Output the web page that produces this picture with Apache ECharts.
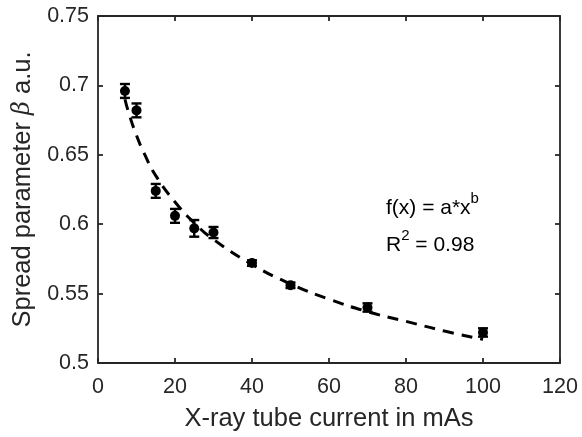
<!DOCTYPE html>
<html>
<head>
<meta charset="utf-8">
<script src="https://cdn.jsdelivr.net/npm/echarts@6/dist/echarts.min.js"></script>
<style>
html,body{margin:0;padding:0;background:#fff;}
#c{width:582px;height:437px;}
</style>
</head>
<body>
<div id="c"></div>
<script>
// Measured data
const currents = [7, 10, 15, 20, 25, 30, 40, 50, 70, 100];
const betaValues = [0.696, 0.682, 0.624, 0.606, 0.597, 0.594, 0.572, 0.556, 0.540, 0.522];
const betaErrors = [0.005, 0.005, 0.005, 0.005, 0.006, 0.004, 0.002, 0.002, 0.003, 0.003];
// Fitted curve
const fitX = [7, 8, 10, 12, 15, 20, 25, 30, 40, 50, 60, 70, 80, 90, 100];
const fitY = [0.690, 0.680, 0.664, 0.651, 0.635, 0.616, 0.601, 0.589, 0.571, 0.557, 0.546, 0.537, 0.530, 0.523, 0.517];
// Tick settings
const xTicks = [0, 20, 40, 60, 80, 100, 120];
const yTicks = [0.5, 0.55, 0.6, 0.65, 0.7, 0.75];

const FONT = '"Liberation Sans", Arial, sans-serif';
const INK = '#262626';

const chart = echarts.init(document.getElementById('c'), null, {renderer: 'canvas'});

const pts = currents.map((x, i) => [x, betaValues[i]]);
const errs = currents.map((x, i) => [x, betaValues[i] - betaErrors[i], betaValues[i] + betaErrors[i]]);
const fit = fitX.map((x, i) => [x, fitY[i]]);

const axisCommon = {
  axisLine: {show: true, onZero: false, lineStyle: {color: INK, width: 1.8}},
  axisTick: {show: true, inside: true, length: 5, lineStyle: {color: INK, width: 1.8}},
  splitLine: {show: false}
};

const option = {
  animation: false,
  backgroundColor: '#fff',
  grid: {left: 98, right: 22, top: 16, bottom: 71, containLabel: false},
  xAxis: [
    Object.assign({
      type: 'value', min: 0, max: 120, interval: 20, position: 'bottom',
      name: 'X-ray tube current in mAs', nameLocation: 'middle', nameGap: 43,
      nameTextStyle: {fontFamily: FONT, fontSize: 25.5, color: INK},
      axisLabel: {fontFamily: FONT, fontSize: 21.5, color: INK, margin: 13,
        formatter: v => xTicks.includes(v) ? String(v) : ''}
    }, axisCommon),
    Object.assign({
      type: 'value', min: 0, max: 120, interval: 20, position: 'top',
      axisLabel: {show: false}
    }, axisCommon)
  ],
  yAxis: [
    Object.assign({
      type: 'value', min: 0.5, max: 0.75, interval: 0.05, position: 'left',
      name: '{t|Spread parameter }{b|β}{t| a.u.}', nameLocation: 'middle', nameGap: 60, nameRotate: 90,
      nameTextStyle: {fontFamily: FONT, fontSize: 25.5, color: INK,
        rich: {t: {fontFamily: FONT, fontSize: 25.5, color: INK},
               b: {fontFamily: '"DejaVu Serif", "Liberation Serif", serif', fontStyle: 'italic', fontSize: 24, color: INK}}},
      axisLabel: {fontFamily: FONT, fontSize: 21.5, color: INK, margin: 9,
        formatter: v => {
          const r = Math.round(v * 100) / 100;
          const m = yTicks.find(t => Math.abs(t - r) < 1e-9);
          return m === undefined ? '' : String(m);
        }}
    }, axisCommon),
    Object.assign({
      type: 'value', min: 0.5, max: 0.75, interval: 0.05, position: 'right',
      axisLabel: {show: false}
    }, axisCommon)
  ],
  series: [
    {
      type: 'line', data: fit, smooth: true, symbol: 'none',
      lineStyle: {color: '#000', width: 3, type: [11, 8]},
      z: 2
    },
    {
      type: 'custom', data: errs, z: 3,
      renderItem: function (params, api) {
        const x = api.value(0);
        const lo = api.coord([x, api.value(1)]);
        const hi = api.coord([x, api.value(2)]);
        const hw = 5;
        const style = {stroke: '#000', lineWidth: 2.4};
        return {
          type: 'group',
          children: [
            {type: 'line', shape: {x1: lo[0], y1: lo[1], x2: hi[0], y2: hi[1]}, style: style},
            {type: 'line', shape: {x1: lo[0] - hw, y1: lo[1], x2: lo[0] + hw, y2: lo[1]}, style: style},
            {type: 'line', shape: {x1: hi[0] - hw, y1: hi[1], x2: hi[0] + hw, y2: hi[1]}, style: style}
          ]
        };
      }
    },
    {
      type: 'scatter', data: pts, symbol: 'circle', symbolSize: 10,
      itemStyle: {color: '#000', opacity: 1}, z: 4
    }
  ],
  graphic: [
    {
      type: 'text', left: 386, top: 191,
      style: {
        text: '{n|f(x) = a*x}{s|b}',
        rich: {n: {fontFamily: FONT, fontSize: 21, fill: '#000', verticalAlign: 'bottom', lineHeight: 28},
               s: {fontFamily: FONT, fontSize: 15, fill: '#000', verticalAlign: 'top', lineHeight: 16}}
      }
    },
    {
      type: 'text', left: 386, top: 228,
      style: {
        text: '{n|R}{s|2}{n| = 0.98}',
        rich: {n: {fontFamily: FONT, fontSize: 21, fill: '#000', verticalAlign: 'bottom', lineHeight: 28},
               s: {fontFamily: FONT, fontSize: 15, fill: '#000', verticalAlign: 'top', lineHeight: 16}}
      }
    }
  ]
};

chart.setOption(option);
</script>
</body>
</html>
